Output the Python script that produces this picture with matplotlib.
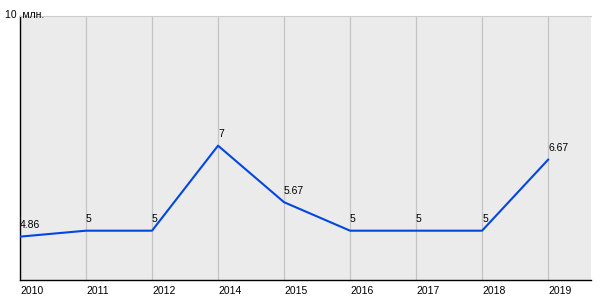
import matplotlib.pyplot as plt

plt.rcParams['font.family'] = ['Liberation Sans', 'DejaVu Sans']

# данные
years = ['2010', '2011', '2012', '2014', '2015', '2016', '2017', '2018', '2019']
values = [4.86, 5, 5, 7, 5.67, 5, 5, 5, 6.67]
labels = ['4.86', '5', '5', '7', '5.67', '5', '5', '5', '6.67']

fig = plt.figure(figsize=(6, 3), dpi=100)
ax = fig.add_axes([20/600, 20/300, 571/600, 264/300])
ax.set_facecolor('#ebebeb')

x = list(range(len(years)))
ax.plot(x, values, color='#0047e0', lw=1.5, zorder=3)

for xi, v, t in zip(x, values, labels):
    ax.annotate(t, xy=(xi, v), xytext=(0, 4.5), textcoords='offset points',
                fontsize=7.5, ha='left', va='bottom', color='black')

ax.set_xlim(0, 8.65)
ax.set_ylim(3.84, 10.05)
ax.set_xticks(x)
ax.set_xticklabels(years, fontsize=7.5, ha='left')
ax.tick_params(axis='x', length=0, pad=4, colors='black')
ax.set_yticks([])
ax.grid(axis='x', color='#c4c4c4', lw=0.9)
ax.set_axisbelow(True)

for s in ['left', 'bottom']:
    ax.spines[s].set_color('black')
    ax.spines[s].set_linewidth(1.0)
ax.spines['right'].set_visible(False)
ax.spines['top'].set_color('#cccccc')
ax.spines['top'].set_linewidth(0.8)

fig.text(5/600, 1 - 15/300, '10  млн.', fontsize=7.5, va='center', ha='left')

fig.savefig('out.png', dpi=100, facecolor='white')
